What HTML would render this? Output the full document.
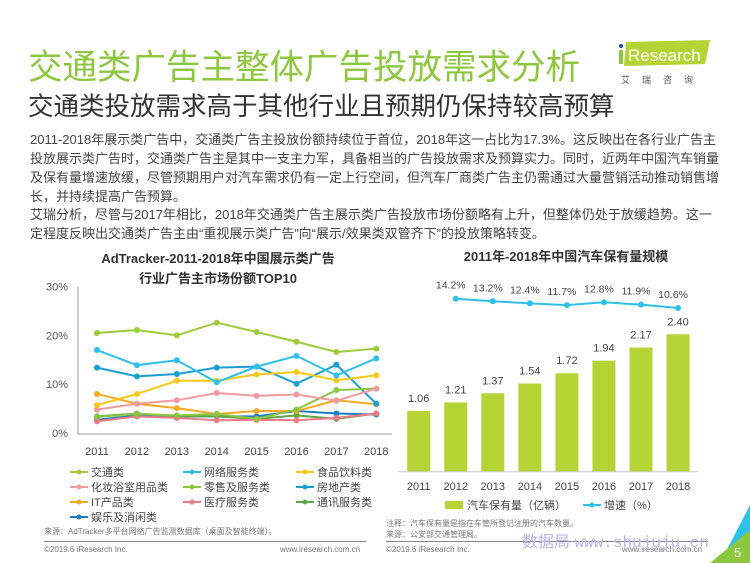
<!DOCTYPE html>
<html><head><meta charset="utf-8">
<style>
body{margin:0;width:750px;height:563px;overflow:hidden;background:#fff;font-family:"Liberation Sans","Noto Sans CJK SC",sans-serif;position:relative}
.a{position:absolute;white-space:nowrap}
.p{font-size:13px;color:#444;left:30px}
</style></head><body>
<div class="a" style="left:28px;top:39px;font-size:34.5px;color:#8dc63f;">交通类广告主整体广告投放需求分析</div>
<div class="a" style="left:28px;top:86px;font-size:25.5px;color:#333;">交通类投放需求高于其他行业且预期仍保持较高预算</div>
<div class="a" style="left:618px;top:40px;width:90px;height:34px;">
<svg width="100" height="50"><polygon points="8,2 92,0 87,24 6,26" fill="#b5d334"/><circle cx="3" cy="6" r="2" fill="#1f4e9c"/><rect x="1" y="10" width="4" height="14" fill="#8dc63f"/><text x="10" y="21" font-size="17" fill="#fff" font-family="Liberation Sans">Research</text><text x="3" y="43" font-size="9" fill="#555" font-family="Noto Sans CJK SC" letter-spacing="12">艾瑞咨询</text></svg></div>
<div>
<div class="a p" style="top:129px">2011-2018年展示类广告中，交通类广告主投放份额持续位于首位，2018年这一占比为17.3%。这反映出在各行业广告主</div>
<div class="a p" style="top:148px">投放展示类广告时，交通类广告主是其中一支主力军，具备相当的广告投放需求及预算实力。同时，近两年中国汽车销量</div>
<div class="a p" style="top:167px">及保有量增速放缓，尽管预期用户对汽车需求仍有一定上行空间，但汽车厂商类广告主仍需通过大量营销活动推动销售增</div>
<div class="a p" style="top:186px">长，并持续提高广告预算。</div>
<div class="a p" style="top:204px">艾瑞分析，尽管与2017年相比，2018年交通类广告主展示类广告投放市场份额略有上升，但整体仍处于放缓趋势。这一</div>
<div class="a p" style="top:223px">定程度反映出交通类广告主由“重视展示类广告”向“展示/效果类双管齐下”的投放策略转变。</div>
</div>
<svg id="c" width="750" height="563" style="position:absolute;left:0;top:0" font-family="Liberation Sans, Noto Sans CJK SC, sans-serif"></svg>
<script>
const years=["2011","2012","2013","2014","2015","2016","2017","2018"];
const shareNames=["交通类","网络服务类","食品饮料类","化妆浴室用品类","零售及服务类","房地产类","IT产品类","医疗服务类","通讯服务类","娱乐及消闲类"];
const shareColors=["#9ccb3b","#2ec0e8","#f9c81a","#f19aa0","#8cc540","#1aa0d0","#f7a823","#ec7a87","#5aa845","#1b7fc0"];
const s0=[20.5,21.1,20.0,22.6,20.7,18.7,16.6,17.3];
const s1=[17.0,13.9,14.9,10.4,13.6,15.8,11.8,15.3];
const s2=[5.7,8.0,10.7,10.7,12.0,12.5,10.8,11.8];
const s3=[4.8,6.0,6.7,8.2,7.6,7.9,6.6,9.1];
const s4=[3.3,3.9,3.6,3.9,2.9,4.8,8.8,9.1];
const s5=[13.4,11.6,12.1,13.4,13.6,10.1,14.0,6.0];
const s6=[8.0,6.0,5.1,3.9,4.5,4.5,6.7,5.9];
const s7=[2.4,3.4,3.1,2.6,2.7,2.6,3.1,4.0];
const s8=[3.4,4.0,3.4,3.4,2.9,3.6,2.9,4.0];
const s9=[2.7,3.6,3.4,3.4,3.4,4.5,4.0,3.8];
const shareTicks=["0%","10%","20%","30%"];
const tickVals=[0,10,20,30];
const carStock=[1.06,1.21,1.37,1.54,1.72,1.94,2.17,2.40];
const carStockLabels=["1.06","1.21","1.37","1.54","1.72","1.94","2.17","2.40"];
const growth=[14.2,13.2,12.4,11.7,12.8,11.9,10.6];
const growthLabels=["14.2%","13.2%","12.4%","11.7%","12.8%","11.9%","10.6%"];
const svg=document.getElementById('c');
const NS="http://www.w3.org/2000/svg";
function mk(t,a,txt){const e=document.createElementNS(NS,t);for(const k in a)e.setAttribute(k,a[k]);if(txt!==undefined)e.textContent=txt;svg.appendChild(e);return e;}
const lx=i=>97+i*39.9, ly=v=>433-v*4.88;
let e;
e=mk('text',{x:218,y:263,'font-size':13,'font-weight':'bold',fill:'#333','text-anchor':'middle'},'AdTracker-2011-2018年中国展示类广告');


e=mk('text',{x:218,y:283,'font-size':13,'font-weight':'bold',fill:'#333','text-anchor':'middle'},'行业广告主市场份额TOP10');


e=mk('line',{x1:78,y1:287,x2:78,y2:434,stroke:'#999'});


e=mk('line',{x1:78,y1:434,x2:392,y2:434,stroke:'#999'});


tickVals.forEach((v,i)=>{e=mk('text',{x:68,y:ly(v)+4,'font-size':11,fill:'#555','text-anchor':'end'},shareTicks[i]);

});
years.forEach((y,i)=>{e=mk('text',{x:lx(i),y:455,'font-size':11,fill:'#444','text-anchor':'middle'},y);

});
const series=[s0,s1,s2,s3,s4,s5,s6,s7,s8,s9];
for(let k=series.length-1;k>=0;k--){const s=series[k];
 e=mk('polyline',{points:s.map((v,i)=>lx(i)+','+ly(v)).join(' '),fill:'none',stroke:shareColors[k],'stroke-width':2});
 
 
 s.forEach((v,i)=>{e=mk('circle',{cx:lx(i),cy:ly(v),r:3,fill:shareColors[k]});
 
 });
}
shareNames.forEach((n,k)=>{const col=k%3,row=Math.floor(k/3);const x=70+col*113,y=472+row*15;
 e=mk('line',{x1:x,y1:y,x2:x+18,y2:y,stroke:shareColors[k],'stroke-width':2});
 
 
 e=mk('circle',{cx:x+9,cy:y,r:2.5,fill:shareColors[k]});
 
 
 e=mk('text',{x:x+21,y:y+4,'font-size':11,fill:'#444'},n);
 
 });
const rx=i=>418.7+i*37.05, base=471.7, by=v=>base-v*57.25, gy=v=>298.7+(14.2-v)*2.58;
e=mk('text',{x:566,y:261,'font-size':13,'font-weight':'bold',fill:'#333','text-anchor':'middle'},'2011年-2018年中国汽车保有量规模');


carStock.forEach((v,i)=>{e=mk('rect',{x:rx(i)-11.5,y:by(v),width:23,height:base-by(v),fill:'#b5d334'});
 
 
 e=mk('text',{x:rx(i),y:by(v)-9,'font-size':11,fill:'#444','text-anchor':'middle'},carStockLabels[i]);
 
 
 e=mk('text',{x:rx(i),y:490,'font-size':11,fill:'#444','text-anchor':'middle'},years[i]);
 
 });
e=mk('line',{x1:398,y1:base,x2:698,y2:base,stroke:'#ccc'});


e=mk('polyline',{points:growth.map((v,i)=>rx(i+1)+','+gy(v)).join(' '),fill:'none',stroke:'#2ec0e8','stroke-width':2});


growth.forEach((v,i)=>{e=mk('circle',{cx:rx(i+1),cy:gy(v),r:3,fill:'#2ec0e8'});
 
 
 e=mk('text',{x:rx(i+1)-5,y:gy(v)-10,'font-size':10.5,fill:'#444','text-anchor':'middle'},growthLabels[i]);
 
 });
e=mk('rect',{x:445,y:501,width:18,height:8,fill:'#b5d334'});


e=mk('text',{x:467,y:509,'font-size':11,fill:'#444'},'汽车保有量（亿辆）');


e=mk('line',{x1:583,y1:505,x2:601,y2:505,stroke:'#2ec0e8','stroke-width':2});


e=mk('circle',{cx:592,cy:505,r:2.5,fill:'#2ec0e8'});


e=mk('text',{x:604,y:509,'font-size':11,fill:'#444'},'增速（%）');


</script>
<div class="a" style="left:44px;top:526px;font-size:8px;color:#777">来源：AdTracker多平台网络广告监测数据库（桌面及智能终端）。</div>
<div class="a" style="left:386px;top:518px;font-size:8px;color:#777;line-height:11px">注释：汽车保有量是指在车管所登记注册的汽车数量。<br>来源：公安部交通管理局。</div>
<div class="a" style="left:44px;top:541px;width:322px;height:1px;background:#888"></div>
<div class="a" style="left:386px;top:541px;width:322px;height:1px;background:#888"></div>
<div class="a" style="left:44px;top:545px;font-size:8px;color:#777">©2019.6 iResearch Inc.</div>
<div class="a" style="left:280px;top:545px;font-size:8px;color:#777">www.iresearch.com.cn</div>
<div class="a" style="left:386px;top:545px;font-size:8px;color:#777">©2019.6 iResearch Inc.</div>
<div class="a" style="left:622px;top:545px;font-size:8px;color:#777">www.iresearch.com.cn</div>
<div class="a" style="left:522px;top:528px;font-size:16px;color:#b9b2e8">数据局 <span style="font-family:'Liberation Mono'">www.shujuju.cn</span></div>
<svg class="a" style="left:700px;top:505px" width="50" height="58"><polygon points="50,0 50,40 20,58" fill="#2ec0e8"/><polygon points="50,25 50,58 10,58" fill="#8dc63f"/><text x="34" y="52" font-size="13" fill="#fff" font-family="Liberation Sans">5</text></svg>
</body></html>
